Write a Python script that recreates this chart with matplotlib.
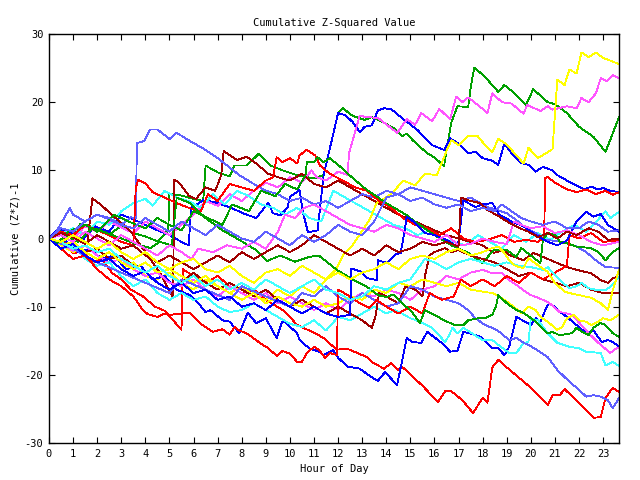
import matplotlib
matplotlib.use("Agg")
import matplotlib.pyplot as plt

# ---- data: (hour, cumulative value) vertices for each series ----
red1_h = [0,0.3,0.6,1.0,1.4,1.8,2.2,2.6,3.0,3.4,3.9,4.4,4.8,5.2,5.5,5.55,6.0,6.5,7.0,7.5,8.0,8.5,9.0,9.7,10.0,10.3,11.0,11.4,11.65,11.95,12.4,13.2,13.4,13.9,14.2,14.5,14.65,14.9,15.5,16.15,16.45,16.7,17.15,17.6,18.0,18.2,18.4,18.65,19.0,20.1,20.7,20.9,21.2,21.4,22.0,22.6,22.9,23.1,23.4,23.66]
red1_v = [0,-1.0,-0.4,-2.2,-1.8,-3.5,-3.0,-5.0,-6.0,-7.5,-8.5,-10.0,-10.6,-12.2,-13.4,-4.5,-5.5,-6.5,-5.5,-7.0,-8.0,-7.5,-9.0,-10.5,-11.5,-12.7,-13.8,-14.6,-15.4,-16.3,-16.2,-17.4,-18.1,-19.1,-18.3,-19.3,-18.8,-19.6,-21.6,-24.0,-22.4,-22.4,-23.7,-25.6,-23.4,-24.1,-18.9,-17.8,-18.9,-22.2,-24.4,-23.0,-23.0,-22.1,-24.1,-26.3,-26.2,-23.4,-21.9,-22.5]

red2_h = [0,0.5,1,1.5,2,2.5,3,3.5,3.6,3.7,4.0,4.3,4.8,5.3,5.8,6.3,6.6,7.0,7.5,8.0,8.5,9.0,9.3,9.45,9.7,10.0,10.3,10.4,10.7,11.05,11.25,11.65,12.2,12.7,13.2,13.7,14.2,14.7,15.2,15.7,16.2,16.7,17.2,17.7,18.2,18.8,19.3,19.8,20.3,20.55,20.6,20.7,21.0,21.5,21.9,22.3,22.7,23.1,23.4,23.66]
red2_v = [0,1.0,0.5,2.0,1.2,0.5,-0.5,-1.0,7.4,8.6,8.1,6.8,6.0,5.2,4.5,4.0,6.5,5.5,8.0,7.5,7.0,8.5,9.0,11.9,11.2,11.8,11.0,12.2,13.0,12.2,10.7,9.5,8.5,7.5,7.0,5.5,4.5,3.0,2.0,1.5,0.5,1.5,0.0,-0.5,-0.2,0.5,-0.5,-0.2,-0.5,0.2,8.9,9.0,8.2,7.2,6.8,7.2,6.5,7.0,6.4,6.8]

red3_h = [0,0.5,1,1.5,2,2.5,3,3.5,3.9,4.1,4.5,4.75,5.0,5.85,6.3,6.8,7.2,7.5,7.7,7.9,8.2,8.75,9.1,9.45,9.7,10.0,10.3,10.5,10.7,11.0,11.2,11.45,11.65,11.95,12.0,12.4,12.9,13.3,13.6,14.0,14.5,15.0,15.5,15.8,16.3,16.8,17.1,17.5,18.0,18.5,19.0,19.5,20.0,20.5,21.0,21.5,21.6,22.0,22.5,23.0,23.66]
red3_v = [0,-1.5,-3.0,-2.5,-4.5,-6.0,-7.0,-8.5,-10.5,-11.1,-11.5,-11.1,-11.2,-10.9,-12.5,-13.7,-13.3,-14.1,-13.0,-13.5,-13.9,-15.3,-16.1,-17.2,-16.5,-16.9,-18.1,-18.1,-16.8,-15.9,-16.3,-17.5,-16.8,-17.1,-7.5,-8.3,-9.5,-10.2,-9.0,-10.0,-11.0,-10.0,-11.0,-8.0,-9.0,-8.5,-6.0,-7.0,-6.0,-7.0,-5.5,-6.5,-5.0,-6.0,-5.0,-4.0,0.5,0.0,0.8,-0.5,-0.3]

dred1_h = [0,0.4,0.8,1.2,1.6,1.8,2.2,2.6,3.0,3.4,3.8,4.2,4.6,4.9,5.15,5.2,5.4,5.8,6.1,6.5,6.9,7.15,7.25,7.8,8.2,8.6,9.1,9.5,10,10.5,11,11.5,12,12.5,13,13.5,14,14.5,15,15.5,16,16.5,17,17.5,18,18.45,18.9,19.1,19.7,20.1,20.5,21.1,21.5,21.9,22.5,22.9,23.2,23.4,23.66]
dred1_v = [0,-0.6,0.4,-0.3,-0.5,5.9,4.8,3.5,2.3,1.0,-1.0,-3.0,-5.0,-7.0,-8.7,8.6,8.2,6.3,5.8,7.5,7.0,9.3,12.8,11.5,12.0,11.0,9.5,9.0,8.5,9.5,8.0,7.5,8.5,7.5,6.5,5.5,4.5,3.5,2.8,2.0,1.2,0.5,0.0,-0.5,-1.0,-2.1,-1.7,-2.4,-3.2,-2.1,-2.7,-3.6,-4.2,-4.6,-5.1,-6.1,-6.5,-5.8,-5.6]

dred2_h = [0,0.5,1,1.5,2,2.5,3,3.5,4,4.5,5,5.5,6,6.5,7,7.5,8,8.5,9,9.5,10,10.5,11,11.5,12,12.5,13.0,13.4,13.55,13.7,14.0,14.5,14.8,15.2,15.5,15.6,15.8,16.0,16.45,16.7,17.0,17.5,18,18.5,19,19.5,20,20.5,21,21.5,22,22.5,23,23.66]
dred2_v = [0,-1.0,-0.5,-2.0,-1.5,-3.0,-2.5,-4.0,-5.0,-4.0,-5.5,-6.5,-5.0,-6.5,-7.5,-6.5,-7.5,-8.5,-7.5,-9.0,-10.0,-9.0,-10.0,-11.0,-10.0,-11.0,-12.0,-13.1,-11.5,-8.0,-8.5,-9.5,-7.0,-7.5,-8.5,-5.6,-2.4,-2.0,-1.4,-2.0,-1.7,-2.5,-3.0,-3.5,-4.5,-5.5,-5.0,-6.0,-6.5,-7.0,-6.5,-7.5,-8.0,-8.0]

dred3_h = [0,0.5,1,1.5,2,2.5,3,3.5,4,4.5,5,5.5,6,6.5,7,7.5,8,8.5,9,9.5,10,10.5,11,11.5,12,12.5,13,13.5,14,14.5,15,15.5,16,16.5,17.0,17.1,17.5,17.9,18.2,18.7,19.1,19.55,19.9,20.3,20.7,21.1,21.5,21.9,22.4,22.8,23.2,23.66]
dred3_v = [0,0.8,0.2,-0.8,0.5,-0.5,-1.5,-1.0,-2.5,-3.5,-2.5,-3.5,-4.5,-3.5,-2.5,-3.5,-2.0,-3.0,-2.0,-1.0,-2.0,-1.0,0.5,-0.5,-1.5,-2.5,-1.5,-2.5,-1.0,-2.0,-1.5,-0.5,-1.0,-0.5,-1.2,6.0,5.5,5.2,4.2,3.2,2.3,1.5,1.0,0.2,0.8,0.0,1.0,0.5,1.5,1.0,-0.2,0.0]

green1_h = [0,0.5,1,1.3,2,2.5,3,3.5,4,4.5,4.95,5.0,5.5,6.0,6.4,6.5,7.0,7.5,7.7,8.2,8.7,9.2,9.7,10.2,10.7,11.0,11.4,12.0,12.2,12.6,13.1,13.4,13.65,14.0,14.3,14.65,14.85,15.1,15.7,16.0,16.4,16.5,16.7,16.95,17.4,17.5,17.65,18.1,18.65,18.9,19.3,19.8,20.1,20.7,21.0,21.5,22.0,22.6,23.1,23.3,23.66]
green1_v = [0,1.2,0.3,2.2,1.5,0.6,1.8,0.8,0.3,-0.4,1.2,6.6,6.3,5.8,5.5,10.7,9.7,9.1,10.7,10.7,12.4,10.7,10.0,9.4,9.0,8.8,9.3,18.4,19.1,18.0,17.4,17.8,17.4,16.8,16.2,15.0,15.4,14.4,12.5,11.9,10.6,13.0,17.0,19.4,19.3,22.0,25.1,23.7,21.5,22.5,21.4,19.6,21.9,20.0,19.7,18.4,16.4,14.9,12.7,14.5,17.8]

green2_h = [0,0.4,0.8,1.5,2.0,2.7,3.3,4.0,4.5,5.0,5.5,6.0,6.6,7.2,7.6,8.3,8.8,9.4,9.8,10.3,10.65,10.7,11.0,11.15,11.4,11.65,12.1,12.4,13.2,14.0,14.85,15.1,16.0,16.7,17.4,18.0,18.45,19.0,19.4,19.6,20.4,20.5,20.7,21.0,21.2,21.5,21.9,22.5,22.8,23.1,23.4,23.66]
green2_v = [0,-0.6,1.0,2.0,1.0,3.5,2.5,1.5,3.0,2.0,1.2,4.0,3.0,2.0,5.0,4.0,7.0,6.2,8.0,7.2,9.3,11.2,11.2,11.9,11.2,11.8,10.5,9.5,7.1,5.2,3.4,2.7,0.5,-1.0,-2.1,-3.6,-1.7,-1.7,-2.7,-1.4,-3.6,-0.2,0.8,0.6,-0.5,-0.7,-1.2,-1.4,-2.0,-3.2,-2.0,-1.4]

green3_h = [0,0.3,0.7,1.2,1.8,2.4,3.0,3.6,4.2,4.6,5.1,5.3,5.85,6.5,7.2,7.9,8.6,9.05,9.6,10.2,10.8,11.2,11.95,12.5,13.2,13.65,14.0,14.3,14.65,15.0,15.4,15.6,16.0,16.4,16.85,17.2,17.4,17.8,18.1,18.4,18.55,18.65,19.0,19.4,19.7,20.2,20.45,20.7,20.9,21.2,21.7,21.9,22.1,22.4,22.6,22.9,23.1,23.4,23.66]
green3_v = [0,-0.8,0.5,-0.5,1.5,0.8,0.0,-0.8,-1.4,-0.5,-1.0,6.0,5.2,3.0,1.2,-0.2,-1.7,-3.3,-2.5,-3.4,-2.7,-2.5,-4.6,-5.8,-7.1,-8.3,-8.6,-8.2,-9.5,-10.5,-12.4,-10.5,-11.2,-12.0,-12.7,-12.7,-12.0,-11.7,-11.7,-11.2,-10.0,-8.3,-9.5,-10.5,-10.9,-12.2,-13.1,-13.9,-13.7,-14.2,-13.9,-13.1,-13.6,-14.2,-13.1,-12.4,-12.7,-13.9,-14.4]

blue1_h = [0,0.4,0.9,1.4,1.9,2.5,3.0,3.5,4.0,4.5,5.0,5.5,5.8,5.9,6.4,6.8,7.5,8.05,8.6,9.1,9.3,9.6,9.9,10.0,10.4,10.55,10.75,11.15,11.4,12.0,12.3,12.6,12.9,13.1,13.4,13.65,13.9,14.2,14.5,15.3,15.9,16.4,16.65,17.0,17.4,17.7,18.0,18.4,18.65,18.9,19.2,19.6,19.9,20.2,20.5,20.9,21.1,21.5,21.9,22.2,22.5,22.8,23.0,23.3,23.66]
blue1_v = [0,1.5,0.8,-0.2,1.8,1.0,3.5,2.8,2.0,1.2,0.5,-0.5,-1.0,4.5,5.6,5.4,4.6,3.7,3.0,5.2,3.7,3.4,4.5,6.1,7.1,3.7,0.9,1.2,9.3,18.4,18.1,17.1,15.6,16.4,16.6,18.8,19.1,19.0,18.1,15.9,13.7,13.0,14.7,13.9,12.5,12.7,11.8,11.4,10.8,13.9,12.5,11.1,10.8,9.8,10.5,10.0,9.3,8.5,7.8,7.2,7.6,7.2,7.4,7.0,6.8]

blue2_h = [0,0.3,0.7,1.2,1.7,2.2,2.7,3.2,3.8,4.3,4.8,5.3,5.85,6.2,6.5,6.7,7.2,7.5,7.9,8.25,8.6,9.0,9.45,9.7,10.3,10.4,10.8,11.2,11.4,11.8,12.0,12.4,12.9,13.25,13.65,13.95,14.45,14.85,15.1,15.45,15.7,16.3,16.65,16.95,17.2,17.55,17.9,18.4,18.65,18.9,19.1,19.4,20.0,20.2,20.4,20.6,20.75,21.0,21.1,21.5,21.9,22.3,22.6,22.95,23.2,23.4,23.66]
blue2_v = [0,-1.0,-0.3,-2.0,-1.5,-3.0,-2.5,-4.5,-4.0,-6.0,-5.5,-7.5,-8.3,-9.5,-10.8,-10.5,-12.0,-12.2,-13.9,-10.9,-12.4,-11.7,-14.6,-12.0,-13.9,-14.9,-16.1,-16.6,-17.1,-16.4,-17.5,-18.8,-19.1,-20.0,-20.9,-19.6,-21.5,-14.6,-15.2,-15.3,-13.7,-15.3,-16.6,-16.5,-13.7,-14.0,-14.4,-16.1,-16.1,-17.1,-15.9,-11.5,-12.7,-11.7,-12.2,-10.5,-9.5,-10.0,-10.5,-11.5,-12.7,-13.9,-13.5,-15.2,-14.9,-15.2,-15.8]

blue3_h = [0,0.5,1,1.5,2,2.5,3,3.5,4,4.5,5,5.5,6,6.5,7,7.5,8,8.5,9,9.5,10,10.5,11,11.5,12.0,12.5,12.55,12.9,13.2,13.6,13.65,14.05,14.35,14.6,14.8,14.85,15.2,15.6,16.0,16.5,16.85,17.0,17.2,17.7,18.0,18.4,18.7,19.2,19.7,20.2,20.7,21.1,21.5,21.9,22.3,22.6,22.9,23.2,23.66]
blue3_v = [0,-1.5,-0.8,-2.5,-3.5,-3.0,-4.5,-5.5,-4.8,-6.5,-7.5,-6.5,-8.0,-7.5,-9.0,-8.5,-10.0,-9.5,-10.5,-9.0,-10.0,-11.0,-10.0,-11.0,-11.5,-11.2,-4.4,-4.8,-5.8,-6.1,-3.2,-3.6,-2.4,-2.1,2.0,3.2,2.3,0.8,0.5,-0.2,-1.0,-0.5,5.6,4.6,5.0,5.2,3.5,2.5,1.8,0.5,-0.5,-1.0,-0.3,2.5,3.9,3.2,3.6,2.0,1.0]

lblue1_h = [0,0.3,0.87,1.0,1.5,2.0,2.5,3.0,3.4,3.6,3.65,3.95,4.2,4.5,5.0,5.3,5.85,6.5,7.0,7.9,8.5,9,9.5,10,10.5,11,11.5,12,12.5,13,13.5,14,14.5,15,15.5,16,16.5,17,17.5,17.9,18.2,18.6,19.0,19.4,19.8,20.2,20.6,21.4,21.9,22.3,22.7,23.1,23.66]
lblue1_v = [0,1.0,4.5,3.5,2.5,3.5,2.8,2.0,3.1,3.0,14.0,14.3,16.0,16.0,14.6,15.5,14.3,13.0,11.8,9.3,8.0,7.0,6.5,5.5,6.0,5.0,5.5,4.5,5.5,6.5,6.0,7.0,6.5,7.5,7.0,6.5,6.0,5.5,6.0,5.2,4.6,4.2,3.7,2.7,1.5,0.8,-0.2,-0.5,-1.2,-2.0,-3.2,-4.2,-4.3]

lblue2_h = [0,1,2,3,4,5,5.5,6.5,7.5,8,9,10,10.5,11,11.5,12,12.5,13,13.5,14,14.5,15,15.5,16,16.5,17,17.4,17.7,18.1,18.4,18.7,19.1,19.4,19.7,20.05,20.7,21.1,21.6,22.0,22.3,22.6,22.9,23.2,23.4,23.66]
lblue2_v = [0,-1.5,-3.5,-5.0,-6.5,-8.0,-6.0,-7.5,-9.0,-7.0,-8.5,-10.0,-8.0,-8.5,-7.0,-8.5,-9.5,-8.0,-9.0,-10.0,-9.5,-7.0,-7.5,-8.5,-9.0,-9.5,-10.5,-11.7,-12.7,-13.1,-13.7,-14.9,-14.6,-15.3,-15.9,-17.4,-19.3,-21.0,-22.2,-23.2,-23.0,-23.2,-23.7,-24.9,-23.4]

lblue3_h = [0,0.5,1,1.5,2,2.5,3,3.5,4,4.5,5,5.5,6,6.5,7,7.5,8,8.5,9,9.5,10,10.5,11,11.5,12,12.5,13,13.5,14,14.5,15,15.5,16,16.5,17,17.5,18,18.5,18.8,19.2,19.6,20,20.5,21,21.5,22,22.4,22.8,23.2,23.66]
lblue3_v = [0,1.5,1.0,2.5,3.5,3.0,2.0,1.5,3.0,2.0,1.0,2.5,1.5,0.5,2.0,1.0,0.0,-0.5,1.0,0.0,-1.0,0.5,-0.5,0.5,2.0,1.0,0.5,2.5,6.0,6.5,5.5,6.0,5.0,4.5,5.0,4.0,4.5,4.0,5.0,4.0,3.0,2.5,2.0,2.5,1.5,1.5,2.5,2.0,1.0,1.2]

mag1_h = [0,0.5,1,1.5,2,2.5,3,3.5,4,4.5,5,5.5,6,6.5,7,7.5,8,8.5,9,9.5,10,10.5,10.9,11.1,11.5,12.0,12.4,12.45,12.9,13.2,13.65,14.45,14.6,14.85,15.2,15.45,15.9,16.2,16.65,16.9,17.15,17.4,17.9,18.2,18.4,18.8,19.2,19.7,19.85,20.4,20.7,20.9,21.5,21.9,22.1,22.4,22.7,22.9,23.15,23.4,23.66]
mag1_v = [0,1.0,0.0,1.8,1.0,2.5,1.6,0.8,2.5,1.5,0.5,2.0,3.5,5.5,4.8,6.5,5.5,7.0,8.2,7.5,9.0,8.2,10.0,9.0,8.5,9.8,9.3,12.5,18.0,17.8,17.7,15.5,16.2,17.5,16.7,18.4,17.2,19.0,17.5,20.8,20.0,20.7,19.3,18.4,21.3,20.0,19.8,18.3,19.6,18.7,19.4,18.9,19.4,19.1,20.6,20.0,21.3,23.5,23.1,24.0,23.5]

mag2_h = [0,0.5,1,1.5,2,2.5,3,3.5,4,4.5,5,5.5,6,6.5,7,7.5,8,8.5,9,9.5,10,10.5,11,11.5,12,12.5,13,13.5,14,14.5,15,15.5,16,16.5,17,17.5,18.0,18.4,18.8,19.1,19.4,19.7,20.0,20.3,20.7,20.95,21.2,21.4,21.7,22.1,22.4,22.8,23.0,23.3,23.5,23.66]
mag2_v = [0,-0.8,-1.8,-1.0,-2.5,-3.5,-3.0,-4.5,-5.5,-5.0,-6.5,-7.0,-6.0,-7.5,-8.5,-7.0,-8.0,-9.0,-8.0,-9.5,-8.5,-9.5,-10.5,-9.5,-10.5,-9.0,-8.0,-8.5,-7.5,-8.0,-9.0,-7.5,-7.0,-5.5,-6.0,-5.0,-4.6,-5.1,-5.1,-6.1,-6.8,-7.6,-8.3,-8.7,-9.3,-10.0,-10.8,-10.9,-11.2,-12.7,-13.9,-15.3,-15.9,-16.8,-16.2,-16.0]

mag3_h = [0,0.5,1,1.5,2,2.5,3,3.5,4,4.5,5,5.5,5.9,6.2,6.8,7.4,8,8.5,9,9.5,9.8,10.2,10.6,11,11.5,12,12.5,13,13.5,14,14.5,15,15.5,16,16.5,17,17.5,18,18.5,19,19.3,19.6,20,20.5,21,21.5,22,22.5,23,23.66]
mag3_v = [0,0.5,-0.5,1.0,0.0,-1.0,0.5,-0.5,-1.5,-2.5,-1.0,-2.0,-3.0,-1.5,-2.0,-1.0,-1.5,-0.5,-1.5,1.0,3.5,3.0,4.5,5.0,4.0,3.0,2.0,1.5,1.0,2.0,1.5,0.5,0.0,-0.5,0.5,-1.0,-0.8,0.0,-0.5,-0.8,2.5,2.0,1.5,1.8,0.8,1.2,0.5,-0.5,-1.0,-0.5]

cyan1_h = [0,0.5,1,1.5,2,2.5,3,3.5,4.0,4.3,4.8,5.3,5.8,6.3,6.8,7.3,7.8,8.3,8.8,9.3,9.8,10.3,10.8,11.3,11.8,12.3,12.8,13.3,13.8,14.3,14.8,15.3,15.8,16.3,16.8,17.3,17.8,18.3,18.8,19.3,19.8,20.3,20.8,21.3,21.8,22.3,22.8,23.1,23.3,23.66]
cyan1_v = [0,0.8,1.5,0.5,2.5,2.0,4.0,5.2,5.8,4.8,7.0,6.0,5.5,4.5,6.5,5.0,7.0,6.2,5.0,4.5,3.5,4.5,3.0,2.5,7.0,6.0,5.0,4.0,3.0,2.0,1.5,0.5,1.2,0.0,-0.5,-1.0,0.5,-0.5,-1.5,0.5,-0.5,0.8,-0.2,1.0,2.0,1.0,2.8,4.0,3.0,3.9]

cyan2_h = [0,0.5,1,1.5,2,2.5,3,3.5,4,4.5,5,5.5,6,6.5,7,7.5,8,8.5,9,9.5,10,10.5,11,11.5,12,12.5,13,13.5,14,14.35,14.6,15.0,15.4,15.9,16.45,16.6,16.75,16.95,17.2,17.55,18.0,18.4,18.65,19.1,19.4,19.7,19.9,20.0,20.3,20.7,21.1,21.6,22.0,22.3,22.9,23.1,23.4,23.66]
cyan2_v = [0,-1.5,-1.0,-3.0,-4.0,-3.5,-5.5,-7.0,-6.0,-8.0,-9.0,-8.0,-9.0,-8.5,-10.0,-10.8,-10.5,-9.5,-10.5,-11.5,-12.5,-13.0,-12.0,-13.5,-11.5,-12.0,-11.0,-10.0,-11.0,-10.5,-10.9,-11.7,-12.2,-13.1,-15.2,-14.2,-13.1,-13.9,-13.1,-13.9,-14.9,-14.9,-15.6,-16.8,-16.8,-15.3,-15.2,-11.7,-12.0,-13.9,-15.3,-15.9,-16.1,-16.6,-16.8,-18.6,-18.1,-18.7]

cyan3_h = [0,0.5,1,1.5,2,2.5,3,3.5,4,4.5,5,5.5,6,6.5,7,7.5,8,8.5,9,9.5,10,10.5,11,11.5,12,12.5,13,13.5,14,14.5,15,15.3,15.6,16,16.5,17,17.5,18,18.5,19,19.5,20.0,20.5,20.7,21.2,21.6,21.9,22.1,22.4,22.8,23.1,23.4,23.66]
cyan3_v = [0,-0.5,-1.5,-1.0,-2.0,-1.5,-3.0,-4.0,-5.0,-4.0,-5.5,-6.5,-5.5,-7.0,-6.0,-7.5,-6.5,-7.5,-6.0,-7.0,-8.0,-7.0,-6.0,-7.5,-8.0,-9.0,-8.5,-7.0,-7.5,-6.5,-6.0,-4.5,-3.0,-3.5,-4.5,-3.5,-3.0,-3.5,-4.0,-3.5,-4.0,-4.2,-4.6,-4.2,-6.1,-7.3,-7.0,-6.5,-7.3,-7.6,-7.6,-6.8,-5.6]

yel1_h = [0,0.5,1,1.5,2,2.5,3,3.5,4,4.5,5,5.5,6,6.5,7,7.5,8,8.5,9,9.5,10,10.5,11,11.5,11.9,12.2,12.6,13.3,13.6,14.2,14.7,15.2,15.6,16.1,16.55,16.7,17.0,17.4,17.8,18.1,18.4,18.65,19.0,19.7,19.9,20.3,20.9,21.1,21.4,21.6,21.9,22.1,22.4,22.7,23.0,23.66]
yel1_v = [0,-1.0,-2.0,-1.0,-2.5,-3.0,-4.5,-3.5,-5.5,-6.0,-5.0,-6.5,-7.5,-6.0,-7.0,-8.0,-7.0,-8.5,-9.0,-7.5,-8.5,-7.0,-8.0,-6.0,-4.6,-2.5,-1.0,2.7,5.2,6.5,8.5,7.8,9.5,9.3,13.3,14.4,13.7,15.0,15.0,13.7,12.7,14.6,13.8,11.0,13.3,11.8,13.1,23.3,22.5,24.8,24.2,27.3,26.6,27.3,26.5,25.6]

yel2_h = [0,0.5,1,1.5,2,2.5,3,3.5,4,4.5,5,5.5,6,6.5,7,7.5,8,8.5,9,9.5,10,10.5,11,11.5,12,12.5,13,13.5,14,14.5,15,15.5,16,16.5,17,17.5,18.0,18.4,18.6,18.9,19.3,19.6,19.9,20.2,20.4,20.7,21.1,21.3,21.5,21.8,22.0,22.3,22.5,22.8,23.0,23.3,23.66]
yel2_v = [0,-1.0,-0.5,-2.0,-3.0,-2.0,-3.5,-4.5,-3.5,-5.0,-4.5,-5.5,-6.5,-5.5,-7.0,-8.0,-9.0,-8.0,-9.5,-8.5,-9.5,-10.0,-9.0,-10.0,-9.5,-8.5,-9.0,-7.5,-8.0,-6.5,-7.0,-6.0,-6.5,-7.0,-6.5,-7.5,-7.8,-8.0,-8.3,-9.0,-10.0,-11.0,-10.0,-10.5,-11.5,-12.2,-13.4,-13.0,-11.7,-11.2,-12.0,-12.2,-12.7,-12.2,-11.7,-12.0,-11.2]

yel3_h = [0,0.5,1,1.5,2,2.5,3,3.5,4,4.5,5,5.5,6,6.5,7,7.5,8,8.5,9,9.5,10,10.5,11,11.5,12,12.5,13,13.5,14,14.5,15,15.5,16,16.5,17,17.5,18.0,18.3,18.65,18.9,19.1,19.3,19.5,19.7,19.9,20.1,20.4,20.7,21.0,21.4,21.6,22.0,22.5,22.9,23.2,23.4,23.66]
yel3_v = [0,-0.5,0.5,-0.5,-1.5,-0.5,-2.0,-3.0,-2.0,-3.5,-4.5,-3.5,-3.0,-4.5,-5.0,-4.0,-5.5,-6.5,-5.0,-4.5,-5.5,-4.0,-5.0,-6.0,-5.0,-6.0,-5.0,-4.5,-3.5,-4.5,-3.0,-2.5,-3.0,-2.0,-1.5,-2.5,-2.0,-1.5,-1.2,-2.1,-3.2,-3.9,-4.2,-4.3,-2.9,-3.4,-4.2,-4.9,-6.5,-7.8,-8.0,-8.3,-8.7,-9.5,-10.5,-7.6,-4.6]

series = [
    (red1_h, red1_v, "#ff0000"), (green1_h, green1_v, "#00a000"), (blue1_h, blue1_v, "#0000ff"),
    (mag1_h, mag1_v, "#ff55ff"), (cyan1_h, cyan1_v, "#40ffff"), (dred1_h, dred1_v, "#a00000"),
    (yel1_h, yel1_v, "#ffff00"), (lblue1_h, lblue1_v, "#6060ff"),
    (red2_h, red2_v, "#ff0000"), (green2_h, green2_v, "#00a000"), (blue2_h, blue2_v, "#0000ff"),
    (mag2_h, mag2_v, "#ff55ff"), (cyan2_h, cyan2_v, "#40ffff"), (dred2_h, dred2_v, "#a00000"),
    (yel2_h, yel2_v, "#ffff00"), (lblue2_h, lblue2_v, "#6060ff"),
    (red3_h, red3_v, "#ff0000"), (green3_h, green3_v, "#00a000"), (blue3_h, blue3_v, "#0000ff"),
    (mag3_h, mag3_v, "#ff55ff"), (cyan3_h, cyan3_v, "#40ffff"), (dred3_h, dred3_v, "#a00000"),
    (yel3_h, yel3_v, "#ffff00"), (lblue3_h, lblue3_v, "#6060ff"),
]

x_ticks = list(range(0, 24))
y_ticks = [-30, -20, -10, 0, 10, 20, 30]

fig = plt.figure(figsize=(6.4, 4.8), dpi=100)
ax = fig.add_axes([49/640, 1-443/480, (619-49)/640, (443-34)/480])
for h, v, c in series:
    ax.plot(h, v, color=c, lw=0.6, antialiased=False)

ax.set_xlim(0, max(max(s[0]) for s in series))
ax.set_ylim(-30, 30)
ax.set_xticks(x_ticks)
ax.set_yticks(y_ticks)
fnt = dict(family="DejaVu Sans Mono", size=7.5)
ax.set_xticklabels([str(t) for t in x_ticks], **fnt)
ax.set_yticklabels([str(t) for t in y_ticks], **fnt)
ax.tick_params(direction="in", top=True, right=True, length=4, width=0.8, pad=4)
for s in ax.spines.values():
    s.set_linewidth(1.0)
ax.set_title("Cumulative Z-Squared Value", pad=6, **fnt)
ax.set_xlabel("Hour of Day", labelpad=4, **fnt)
ax.set_ylabel("Cumulative (Z*Z)-1", labelpad=3, **fnt)
fig.savefig("out.png", dpi=100)
